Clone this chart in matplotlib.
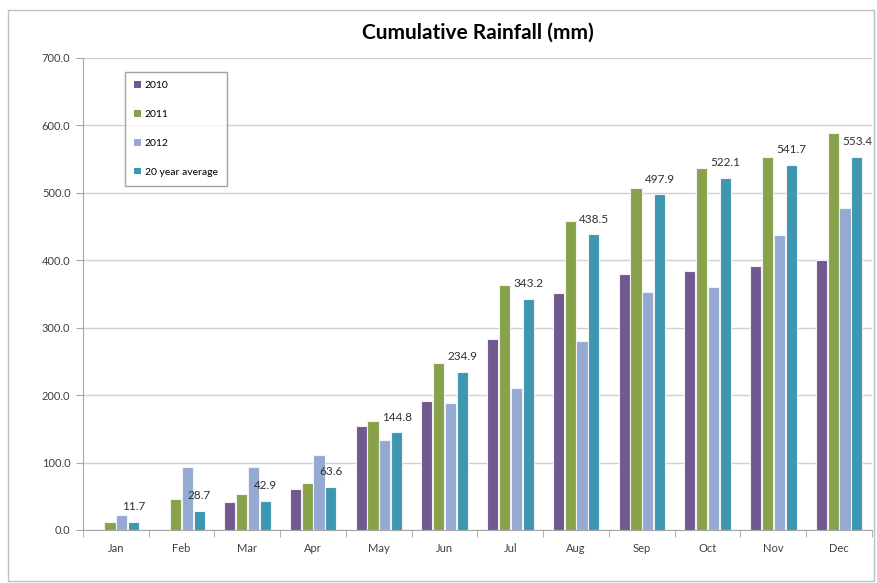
import matplotlib
matplotlib.use("Agg")
import matplotlib.pyplot as plt
import numpy as np
from matplotlib.patches import Rectangle

months = ["Jan", "Feb", "Mar", "Apr", "May", "Jun",
          "Jul", "Aug", "Sep", "Oct", "Nov", "Dec"]
rain_2010 = [0, 0, 42, 61, 154, 191, 283, 352, 380, 384, 392, 401]
rain_2011 = [12, 46, 53, 70, 161, 247, 363, 458, 507, 537, 553, 589]
rain_2012 = [22, 93, 93, 111, 133, 189, 211, 281, 353, 361, 438, 477]
rain_avg = [11.7, 28.7, 42.9, 63.6, 144.8, 234.9, 343.2, 438.5, 497.9, 522.1, 541.7, 553.4]

series = [
    ("2010", rain_2010, "#71588f"),
    ("2011", rain_2011, "#87a24a"),
    ("2012", rain_2012, "#95aad3"),
    ("20 year average", rain_avg, "#3d97b1"),
]

plt.rcParams["font.family"] = ["Lato", "DejaVu Sans"]

W, H = 878, 583
fig = plt.figure(figsize=(W / 100, H / 100), dpi=100, facecolor="white")

# chart frame
fig.patches.append(Rectangle((8 / W, 2 / H), 866 / W, 571 / H, transform=fig.transFigure,
                             fill=False, edgecolor="#bfbfbf", linewidth=1.0))

ax = fig.add_axes([83 / W, 53 / H, (872 - 83) / W, 472 / H])

x = np.arange(len(months))
width = 0.17
offsets = (np.arange(4) - 1.5) * 0.18
bars = []
for (label, values, color), off in zip(series, offsets):
    b = ax.bar(x + off, values, width, color=color, edgecolor="#f2f2f2",
               linewidth=0.8, label=label, zorder=3)
    bars.append(b)

for rect, val in zip(bars[3], rain_avg):
    ax.annotate(f"{val:.1f}", (rect.get_x() + rect.get_width() / 2, rect.get_height()),
                xytext=(0, 7), textcoords="offset points", ha="center", va="bottom",
                fontsize=8.5, color="#303030", zorder=4)

ax.set_ylim(0, 700)
ax.set_xlim(-0.5, len(months) - 0.5)
ax.set_yticks(np.arange(0, 701, 100))
ax.set_yticklabels([f"{v:.1f}" for v in range(0, 701, 100)])
ax.set_xticks(x)
ax.set_xticklabels(months)
ax.set_xticks(np.arange(-0.5, len(months), 1.0), minor=True)

ax.grid(axis="y", color="#d0d0d0", linewidth=1.0, zorder=0)
for side in ("top", "right"):
    ax.spines[side].set_visible(False)
for side in ("left", "bottom"):
    ax.spines[side].set_color("#a6a6a6")
ax.tick_params(axis="y", length=5, color="#a6a6a6", labelsize=8, labelcolor="#404040", pad=4)
ax.tick_params(axis="x", which="major", length=0, labelsize=8, labelcolor="#404040", pad=9)
ax.tick_params(axis="x", which="minor", length=5, color="#a6a6a6")

leg = ax.legend(loc="upper left", bbox_to_anchor=(125 / W, 1 - 72 / H),
                bbox_transform=fig.transFigure, fontsize=7.5, frameon=True, fancybox=False,
                handlelength=0.6, handleheight=0.6, handletextpad=0.4, labelspacing=1.9,
                borderpad=0.9, borderaxespad=0)
leg.get_frame().set_edgecolor("#8c8c8c")
leg.get_frame().set_linewidth(1.0)
for h in leg.legend_handles:
    h.set_edgecolor("none")

fig.text(0.5 * (83 + 872) / W, 1 - 33 / H, "Cumulative Rainfall (mm)",
         ha="center", va="center", fontsize=15, fontweight="bold", color="#000000")

fig.savefig("out.png", dpi=100, facecolor="white")
